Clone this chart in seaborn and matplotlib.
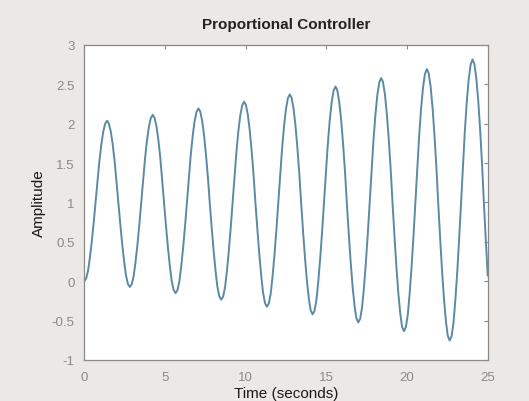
import matplotlib
matplotlib.use("Agg")
import matplotlib.pyplot as plt
import seaborn as sns
import pandas as pd

time_s = [
    0.00, 0.12, 0.24, 0.35, 0.47, 0.59, 0.71, 0.83, 0.94, 1.06, 1.18, 1.30,
    1.42, 1.53, 1.65, 1.77, 1.89, 2.00, 2.12, 2.24, 2.36, 2.48, 2.59, 2.71,
    2.83, 2.95, 3.07, 3.18, 3.30, 3.42, 3.54, 3.66, 3.77, 3.89, 4.01, 4.13,
    4.25, 4.36, 4.48, 4.60, 4.72, 4.83, 4.95, 5.07, 5.19, 5.31, 5.42, 5.54,
    5.66, 5.78, 5.90, 6.01, 6.13, 6.25, 6.37, 6.49, 6.60, 6.72, 6.84, 6.96,
    7.08, 7.19, 7.31, 7.43, 7.55, 7.67, 7.78, 7.90, 8.02, 8.14, 8.25, 8.37,
    8.49, 8.61, 8.73, 8.84, 8.96, 9.08, 9.20, 9.32, 9.43, 9.55, 9.67, 9.79,
    9.91, 10.02, 10.14, 10.26, 10.38, 10.50, 10.61, 10.73, 10.85, 10.97, 11.08, 11.20,
    11.32, 11.44, 11.56, 11.67, 11.79, 11.91, 12.03, 12.15, 12.26, 12.38, 12.50, 12.62,
    12.74, 12.85, 12.97, 13.09, 13.21, 13.33, 13.44, 13.56, 13.68, 13.80, 13.92, 14.03,
    14.15, 14.27, 14.39, 14.50, 14.62, 14.74, 14.86, 14.98, 15.09, 15.21, 15.33, 15.45,
    15.57, 15.68, 15.80, 15.92, 16.04, 16.16, 16.27, 16.39, 16.51, 16.63, 16.75, 16.86,
    16.98, 17.10, 17.22, 17.33, 17.45, 17.57, 17.69, 17.81, 17.92, 18.04, 18.16, 18.28,
    18.40, 18.51, 18.63, 18.75, 18.87, 18.99, 19.10, 19.22, 19.34, 19.46, 19.58, 19.69,
    19.81, 19.93, 20.05, 20.16, 20.28, 20.40, 20.52, 20.64, 20.75, 20.87, 20.99, 21.11,
    21.23, 21.34, 21.46, 21.58, 21.70, 21.82, 21.93, 22.05, 22.17, 22.29, 22.41, 22.52,
    22.64, 22.76, 22.88, 22.99, 23.11, 23.23, 23.35, 23.47, 23.58, 23.70, 23.82, 23.94,
    24.06, 24.17, 24.29, 24.41, 24.53, 24.65, 24.76, 24.88, 25.00]

amplitude = [
    0.000, 0.031, 0.129, 0.287, 0.494, 0.737, 1.000, 1.264, 1.512, 1.726, 1.892, 1.998,
    2.036, 2.003, 1.902, 1.739, 1.524, 1.272, 1.000, 0.726, 0.470, 0.248, 0.076, -0.033,
    -0.073, -0.039, 0.066, 0.235, 0.457, 0.718, 1.000, 1.284, 1.549, 1.779, 1.957, 2.070,
    2.111, 2.076, 1.968, 1.792, 1.562, 1.292, 1.000, 0.706, 0.431, 0.194, 0.009, -0.108,
    -0.151, -0.115, -0.002, 0.179, 0.418, 0.698, 1.000, 1.304, 1.589, 1.835, 2.026, 2.148,
    2.192, 2.155, 2.038, 1.850, 1.603, 1.313, 1.000, 0.685, 0.390, 0.135, -0.063, -0.189,
    -0.234, -0.196, -0.075, 0.120, 0.376, 0.676, 1.000, 1.326, 1.632, 1.896, 2.101, 2.231,
    2.278, 2.239, 2.114, 1.912, 1.647, 1.336, 1.000, 0.662, 0.346, 0.072, -0.140, -0.275,
    -0.324, -0.283, -0.153, 0.056, 0.330, 0.652, 1.000, 1.350, 1.678, 1.961, 2.181, 2.321,
    2.371, 2.329, 2.194, 1.978, 1.694, 1.360, 1.000, 0.638, 0.298, 0.005, -0.223, -0.368,
    -0.420, -0.376, -0.237, -0.013, 0.282, 0.627, 1.000, 1.375, 1.727, 2.031, 2.266, 2.417,
    2.471, 2.425, 2.281, 2.049, 1.744, 1.387, 1.000, 0.611, 0.247, -0.068, -0.312, -0.467,
    -0.523, -0.476, -0.327, -0.087, 0.229, 0.600, 1.000, 1.403, 1.780, 2.106, 2.358, 2.520,
    2.578, 2.529, 2.374, 2.125, 1.798, 1.415, 1.000, 0.583, 0.192, -0.145, -0.407, -0.574,
    -0.634, -0.583, -0.423, -0.165, 0.173, 0.571, 1.000, 1.432, 1.836, 2.186, 2.457, 2.630,
    2.692, 2.640, 2.474, 2.207, 1.856, 1.445, 1.000, 0.553, 0.134, -0.228, -0.509, -0.688,
    -0.753, -0.698, -0.527, -0.250, 0.113, 0.539, 1.000, 1.463, 1.897, 2.272, 2.563, 2.748,
    2.815, 2.759, 2.581, 2.295, 1.918, 1.477, 1.000, 0.520, 0.071]

x_ticks = [0, 5, 10, 15, 20, 25]
x_tick_labels = ["0", "5", "10", "15", "20", "25"]
y_ticks = [-1, -0.5, 0, 0.5, 1, 1.5, 2, 2.5, 3]
y_tick_labels = ["-1", "-0.5", "0", "0.5", "1", "1.5", "2", "2.5", "3"]

sns.set_style("white")
plt.rcParams['font.family'] = ['Liberation Sans', 'DejaVu Sans']

df = pd.DataFrame({"t": time_s, "y": amplitude})

fig = plt.figure(figsize=(5.29, 4.02), dpi=100, facecolor="#ebe8e6")
ax = fig.add_axes([0.159, 0.102, 0.763, 0.784])
ax.set_facecolor("white")

sns.lineplot(data=df, x="t", y="y", ax=ax, color="#5b8aa6", linewidth=1.4,
             estimator=None, sort=False)

ax.set_xlim(0, 25)
ax.set_ylim(-1, 3)
ax.set_xticks(x_ticks)
ax.set_xticklabels(x_tick_labels)
ax.set_yticks(y_ticks)
ax.set_yticklabels(y_tick_labels)
ax.tick_params(direction="in", length=3, width=0.8, colors="#8a8a8a",
               labelcolor="#8a8a8a", labelsize=9.5, top=True, right=True)
ax.tick_params(axis="x", pad=8)
ax.tick_params(axis="y", pad=7)
for s in ax.spines.values():
    s.set_color("#8a8a8a")
    s.set_linewidth(0.9)
    s.set_visible(True)

ax.set_title("Proportional Controller", fontsize=11, fontweight="bold",
             color="#222222", pad=12)
ax.set_xlabel("Time (seconds)", fontsize=11, color="#1a1a1a", labelpad=2)
ax.set_ylabel("Amplitude", fontsize=11, color="#1a1a1a", labelpad=4)

fig.savefig("out.png", dpi=100, facecolor=fig.get_facecolor())
